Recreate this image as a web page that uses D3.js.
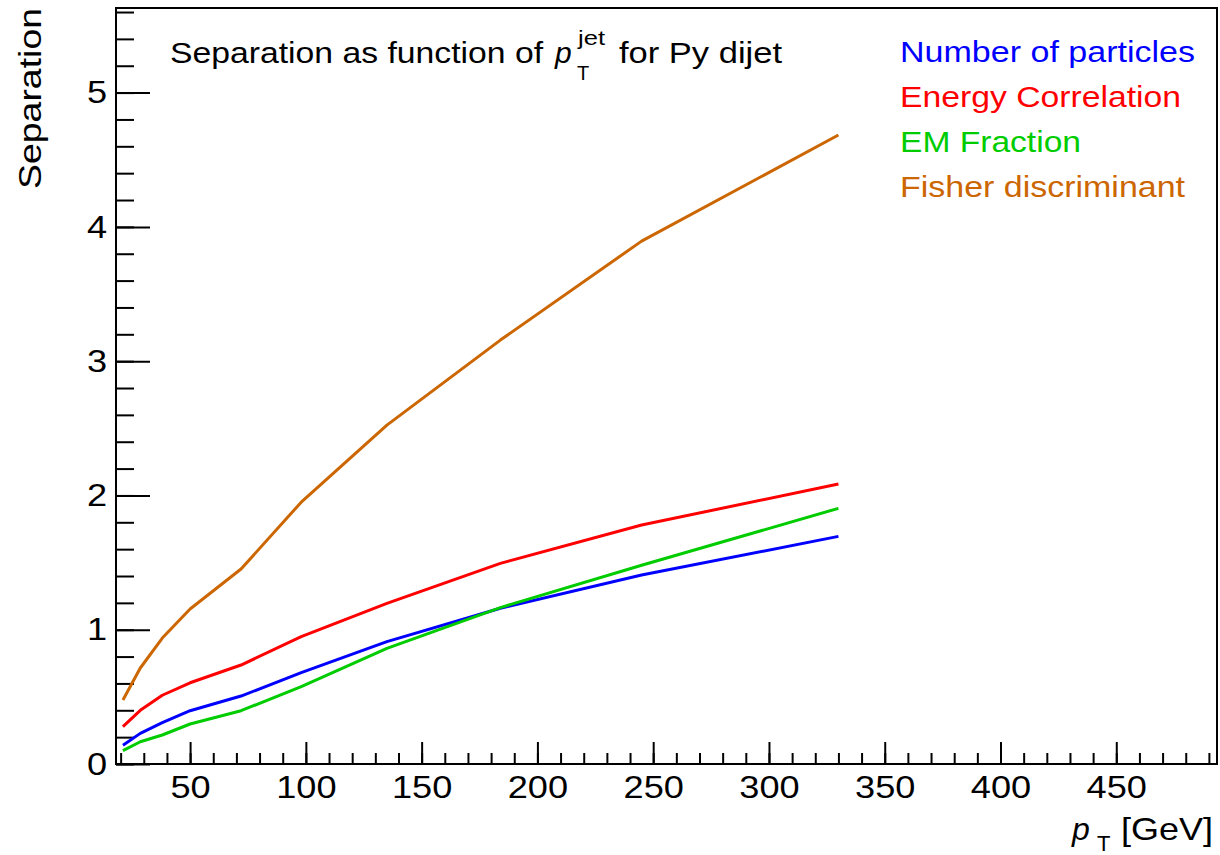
<!DOCTYPE html>
<html>
<head>
<meta charset="utf-8">
<script src="https://cdn.jsdelivr.net/npm/d3@7"></script>
<style>
  body { margin: 0; background: #fff; }
  text { font-family: "Liberation Sans", Arial, sans-serif; }
</style>
</head>
<body>
<svg id="chart" width="1220" height="855"></svg>
<script>
// pT bin centres and separation per variable
var ptValues = [21, 28.5, 38, 50, 72, 98, 135, 184, 245, 330];
var nParticles = [0.14, 0.228, 0.308, 0.397, 0.506, 0.68, 0.911, 1.16, 1.407, 1.695];
var energyCorr = [0.278, 0.40, 0.512, 0.605, 0.737, 0.948, 1.196, 1.494, 1.78, 2.085];
var emFraction = [0.099, 0.166, 0.216, 0.298, 0.397, 0.576, 0.861, 1.165, 1.48, 1.904];
var fisher = [0.477, 0.715, 0.938, 1.154, 1.452, 1.95, 2.524, 3.157, 3.894, 4.684];

var seriesNames = ["Number of particles", "Energy Correlation", "EM Fraction", "Fisher discriminant"];
var seriesColors = ["#0000ff", "#ff0000", "#00cc00", "#cc6600"];
var seriesValues = [nParticles, energyCorr, emFraction, fisher];
var legendWidths = [295, 281, 181, 285];

var xMajor = [50, 100, 150, 200, 250, 300, 350, 400, 450];
var yMajor = [0, 1, 2, 3, 4, 5];

var svg = d3.select("#chart");
var frameL = 116, frameR = 1217, frameT = 8, frameB = 764;

var x = d3.scaleLinear().domain([18, 493.5]).range([frameL, frameR]);
var y = d3.scaleLinear().domain([0, 5.63]).range([frameB, frameT]);

/* the reference font runs wider than Liberation Sans, so stretch text a bit */
function widen(sel, factor) {
  sel.each(function() {
    var w = this.getComputedTextLength();
    d3.select(this).attr("textLength", w * factor).attr("lengthAdjust", "spacingAndGlyphs");
  });
}

// minor ticks first, then the labelled major ones
svg.append("g")
  .attr("transform", "translate(0," + frameB + ")")
  .call(d3.axisBottom(x).tickValues(d3.range(20, 491, 10)).tickSize(-11).tickFormat(""))
  .call(function(g) { g.select(".domain").remove(); });

var xAxisG = svg.append("g")
  .attr("transform", "translate(0," + frameB + ")")
  .call(d3.axisBottom(x).tickValues(xMajor).tickSize(-22).tickPadding(11).tickFormat(d3.format("d")))
  .call(function(g) { g.select(".domain").remove(); });
xAxisG.selectAll("text")
  .attr("font-size", 32)
  .attr("font-family", "Liberation Sans, Arial, sans-serif")
  .attr("fill", "#000")
  .call(widen, 1.13);

svg.append("g")
  .attr("transform", "translate(" + frameL + ",0)")
  .call(d3.axisLeft(y).tickValues(d3.range(0, 5.61, 0.2)).tickSize(-18).tickFormat(""))
  .call(function(g) { g.select(".domain").remove(); });

var yAxisG = svg.append("g")
  .attr("transform", "translate(" + frameL + ",0)")
  .call(d3.axisLeft(y).tickValues(yMajor).tickSize(-34).tickPadding(9).tickFormat(d3.format("d")))
  .call(function(g) { g.select(".domain").remove(); });
yAxisG.selectAll("text")
  .attr("font-size", 32)
  .attr("font-family", "Liberation Sans, Arial, sans-serif")
  .attr("fill", "#000")
  .call(widen, 1.13);

svg.selectAll(".tick line").attr("stroke", "#000").attr("stroke-width", 2);

// frame
svg.append("rect")
  .attr("x", frameL).attr("y", frameT)
  .attr("width", frameR - frameL).attr("height", frameB - frameT)
  .attr("fill", "none").attr("stroke", "#000").attr("stroke-width", 2);

var line = d3.line()
  .x(function(d) { return x(d[0]); })
  .y(function(d) { return y(d[1]); });

seriesValues.forEach(function(vals, i) {
  svg.append("path")
    .datum(ptValues.map(function(p, j) { return [p, vals[j]]; }))
    .attr("d", line)
    .attr("fill", "none")
    .attr("stroke", seriesColors[i])
    .attr("stroke-width", 3)
    .attr("stroke-linejoin", "round");
});

// legend
seriesNames.forEach(function(name, i) {
  svg.append("text")
    .attr("x", 900).attr("y", 62 + i * 45)
    .attr("font-size", 29)
    .attr("fill", seriesColors[i])
    .attr("textLength", legendWidths[i])
    .attr("lengthAdjust", "spacingAndGlyphs")
    .text(name);
});

// title inside the frame, laid out piece by piece
var title = svg.append("g").attr("fill", "#000");
title.append("text").attr("x", 170).attr("y", 63).attr("font-size", 30)
  .attr("textLength", 373).attr("lengthAdjust", "spacingAndGlyphs")
  .text("Separation as function of");
title.append("text").attr("x", 555).attr("y", 63).attr("font-size", 30)
  .attr("font-style", "italic").text("p");
title.append("text").attr("x", 577).attr("y", 80).attr("font-size", 20).text("T");
title.append("text").attr("x", 578).attr("y", 45).attr("font-size", 20)
  .attr("textLength", 27).attr("lengthAdjust", "spacingAndGlyphs").text("jet");
title.append("text").attr("x", 619).attr("y", 63).attr("font-size", 30)
  .attr("textLength", 163).attr("lengthAdjust", "spacingAndGlyphs")
  .text("for Py dijet");

// axis titles
var xTitle = svg.append("g").attr("fill", "#000");
xTitle.append("text").attr("x", 1072).attr("y", 840).attr("font-size", 32)
  .attr("font-style", "italic").text("p");
xTitle.append("text").attr("x", 1097).attr("y", 851).attr("font-size", 22).text("T");
xTitle.append("text").attr("x", 1121).attr("y", 840).attr("font-size", 32)
  .attr("textLength", 92).attr("lengthAdjust", "spacingAndGlyphs").text("[GeV]");

svg.append("text")
  .attr("transform", "translate(41,8) rotate(-90)")
  .attr("text-anchor", "end")
  .attr("font-size", 32)
  .attr("fill", "#000")
  .attr("textLength", 181)
  .attr("lengthAdjust", "spacingAndGlyphs")
  .text("Separation");
</script>
</body>
</html>
